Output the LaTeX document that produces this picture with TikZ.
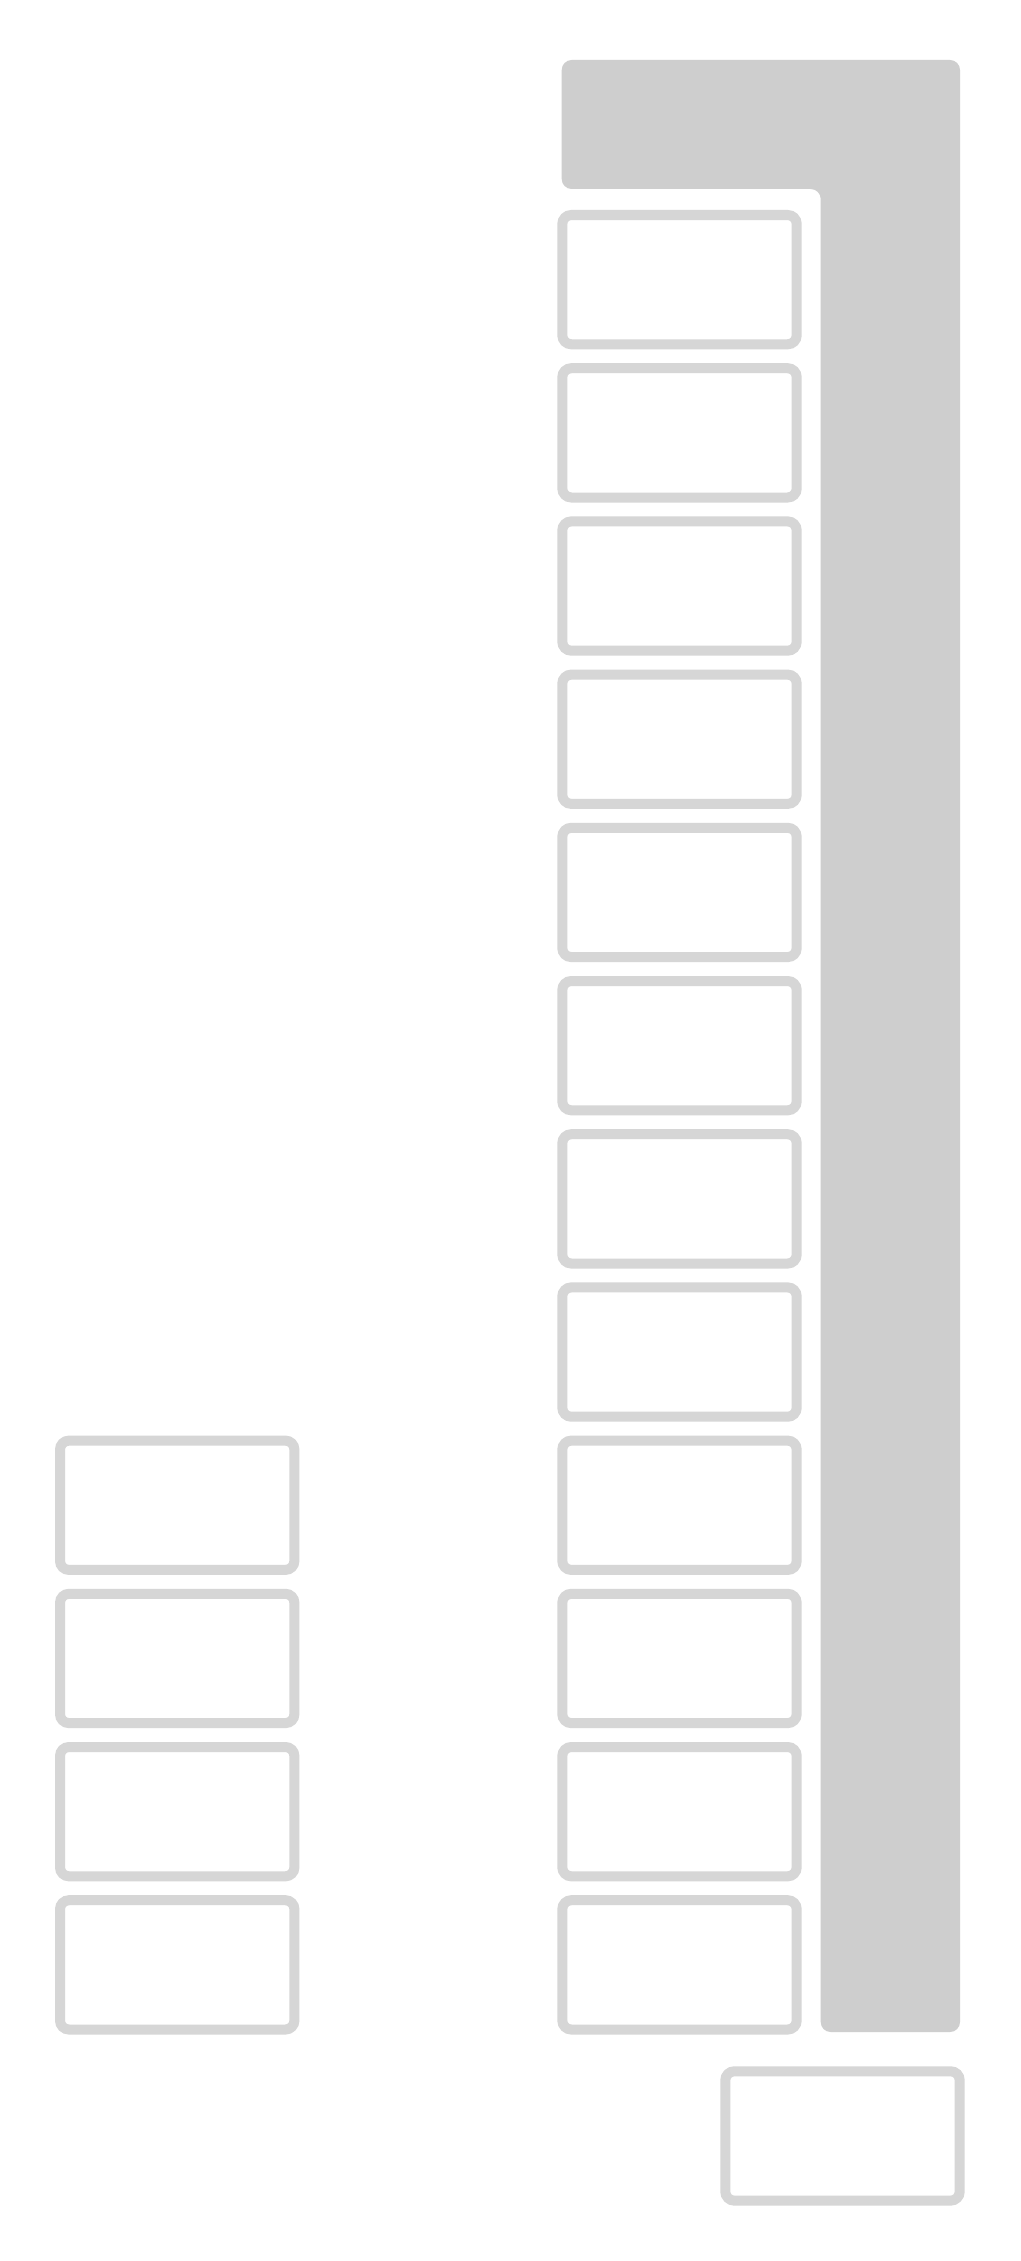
\documentclass[tikz,border=0pt]{standalone}
\definecolor{boxline}{HTML}{D6D6D6}
\definecolor{bandfill}{HTML}{CECECE}
\tikzset{
  cell/.style={draw=boxline, fill=white, line width=10pt, rounded corners=9pt,
    rectangle, minimum width=234.4pt, minimum height=129.3pt, inner sep=0pt, outer sep=0pt, anchor=north west}
}
\begin{document}
\begin{tikzpicture}[x=1pt,y=-1pt]
\useasboundingbox (0,0) rectangle (1020,2261);
\fill[white] (0,0) rectangle (1020,2261);
% gray L-shaped band
\fill[bandfill, rounded corners=10pt] (561.7,60) -- (960,60) -- (960,2032) -- (820.7,2032) -- (820.7,189) -- (561.7,189) -- cycle;
% right column
\foreach \k in {0,...,11}{
  \node[cell] (r\k) at (562.3,{215+153.2*\k}) {};
}
% left column
\foreach \k in {8,...,11}{
  \node[cell] (l\k) at (60,{215+153.2*\k}) {};
}
% bottom box
\node[cell] (b) at (725.3,2071.3) {};
\end{tikzpicture}
\end{document}
